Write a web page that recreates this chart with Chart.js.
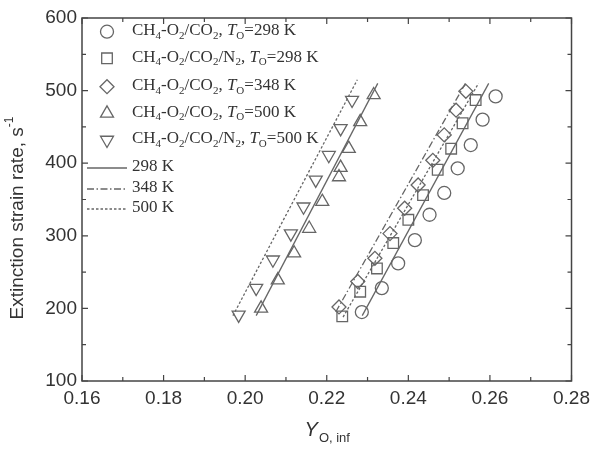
<!DOCTYPE html>
<html>
<head>
<meta charset="utf-8">
<script src="https://cdn.jsdelivr.net/npm/chart.js@4.4.1/dist/chart.umd.min.js"></script>
<style>
html, body { margin: 0; padding: 0; background: #fff; }
</style>
</head>
<body>
<canvas id="c" width="596" height="450"></canvas>
<script>
// Messpunkte
var circX = [0.2286, 0.2335, 0.2375, 0.2416, 0.2452, 0.2488, 0.2521, 0.2553, 0.2582, 0.2614];
var circY = [195, 228, 262, 294, 329, 359, 393, 425, 460, 492];
var sqX = [0.2238, 0.2282, 0.2323, 0.2363, 0.2400, 0.2436, 0.2472, 0.2505, 0.2533, 0.2565];
var sqY = [189, 223, 255, 290, 322, 356, 391, 420, 455, 487];
var diaX = [0.2230, 0.2276, 0.2318, 0.2355, 0.2391, 0.2424, 0.2460, 0.2488, 0.2517, 0.2541];
var diaY = [202, 237, 269, 303, 338, 370, 404, 439, 473, 499];
var upX = [0.2039, 0.2080, 0.2120, 0.2157, 0.2189, 0.2230, 0.2234, 0.2254, 0.2282, 0.2315];
var upY = [200, 239, 276, 310, 347, 381, 394, 420, 457, 494];
var downX = [0.1984, 0.2027, 0.2068, 0.2112, 0.2143, 0.2173, 0.2205, 0.2234, 0.2262];
var downY = [191, 228, 267, 303, 340, 377, 411, 448, 487];

// Fit-Linien (jeweils Anfangs- und Endpunkt)
var solidLX = [0.2027, 0.2325], solidLY = [190, 510];
var dotLX = [0.1970, 0.2275], dotLY = [190, 515];
var solidRX = [0.2287, 0.2597], solidRY = [190, 510];
var dashDotRX = [0.2222, 0.2540], dashDotRY = [195, 510];
var dotRX = [0.2240, 0.2572], dotRY = [188, 510];

// Achsen
var xTicks = [0.16, 0.18, 0.20, 0.22, 0.24, 0.26, 0.28];
var yTicks = [100, 200, 300, 400, 500, 600];

// Legende: {..} = tiefgestellt, [..] = kursiv
var markLabels = [
    'CH{4}-O{2}/CO{2}, [T]{O}=298 K',
    'CH{4}-O{2}/CO{2}/N{2}, [T]{O}=298 K',
    'CH{4}-O{2}/CO{2}, [T]{O}=348 K',
    'CH{4}-O{2}/CO{2}, [T]{O}=500 K',
    'CH{4}-O{2}/CO{2}/N{2}, [T]{O}=500 K'
];
var lineLabels = ['298 K', '348 K', '500 K'];

var grey = '#666';
var markStyles = [
    { pointStyle: 'circle', radius: 6.5, rotation: 0 },
    { pointStyle: 'rect', radius: 7.5, rotation: 0 },
    { pointStyle: 'rectRot', radius: 7, rotation: 0 },
    { pointStyle: 'triangle', radius: 7.5, rotation: 0 },
    { pointStyle: 'triangle', radius: 7.5, rotation: 180 }
];
var lineDashes = [[], [7, 2.5, 1.5, 2.5], [2.5, 2]];

function pts(xs, ys) {
    return xs.map(function (x, i) { return { x: x, y: ys[i] }; });
}

function markSet(xs, ys, k) {
    var s = markStyles[k];
    return {
        data: pts(xs, ys),
        pointStyle: s.pointStyle,
        pointRadius: s.radius,
        rotation: s.rotation,
        borderColor: grey,
        backgroundColor: 'rgba(0,0,0,0)',
        pointBorderWidth: 1.3,
        showLine: false
    };
}

function lineSet(xs, ys, dash) {
    return {
        data: pts(xs, ys),
        showLine: true,
        pointRadius: 0,
        borderColor: grey,
        borderWidth: 1.3,
        borderDash: dash,
        fill: false
    };
}

// kleiner Text-Parser fuer tief gestellte / kursive Teile
function drawRich(ctx, str, x, y, size, family) {
    var re = /\{([^}]*)\}|\[([^\]]*)\]|([^{\[]+)/g;
    var m;
    ctx.textBaseline = 'middle';
    ctx.textAlign = 'left';
    while ((m = re.exec(str)) !== null) {
        if (m[1] !== undefined) {
            ctx.font = Math.round(size * 0.62) + 'px ' + family;
            ctx.fillText(m[1], x, y + size * 0.3);
            x += ctx.measureText(m[1]).width;
        } else if (m[2] !== undefined) {
            ctx.font = 'italic ' + size + 'px ' + family;
            ctx.fillText(m[2], x, y);
            x += ctx.measureText(m[2]).width;
        } else {
            ctx.font = size + 'px ' + family;
            ctx.fillText(m[3], x, y);
            x += ctx.measureText(m[3]).width;
        }
    }
    return x;
}

var framePlugin = {
    id: 'frame',
    afterDraw: function (chart) {
        var ctx = chart.ctx;
        var a = chart.chartArea;
        var xs = chart.scales.x, ys = chart.scales.y;
        ctx.save();
        // Rahmen
        ctx.strokeStyle = '#444';
        ctx.lineWidth = 1.5;
        ctx.strokeRect(a.left, a.top, a.right - a.left, a.bottom - a.top);

        // Ticks nach innen, Haupt- und Nebenticks
        ctx.lineWidth = 1.2;
        ctx.beginPath();
        for (var i = 0; i < xTicks.length; i++) {
            var v = xTicks[i];
            var p = xs.getPixelForValue(v);
            ctx.moveTo(p, a.bottom); ctx.lineTo(p, a.bottom - 6);
            ctx.moveTo(p, a.top); ctx.lineTo(p, a.top + 6);
            if (i < xTicks.length - 1) {
                var pm = xs.getPixelForValue((v + xTicks[i + 1]) / 2);
                ctx.moveTo(pm, a.bottom); ctx.lineTo(pm, a.bottom - 4);
                ctx.moveTo(pm, a.top); ctx.lineTo(pm, a.top + 4);
            }
        }
        for (var j = 0; j < yTicks.length; j++) {
            var w = yTicks[j];
            var q = ys.getPixelForValue(w);
            ctx.moveTo(a.left, q); ctx.lineTo(a.left + 6, q);
            ctx.moveTo(a.right, q); ctx.lineTo(a.right - 6, q);
            if (j < yTicks.length - 1) {
                var qm = ys.getPixelForValue((w + yTicks[j + 1]) / 2);
                ctx.moveTo(a.left, qm); ctx.lineTo(a.left + 4, qm);
                ctx.moveTo(a.right, qm); ctx.lineTo(a.right - 4, qm);
            }
        }
        ctx.stroke();

        // Legende
        var serif = '"Liberation Serif", "DejaVu Serif", serif';
        var rowY = [31.7, 58.3, 86.7, 113.3, 140];
        for (var k = 0; k < markLabels.length; k++) {
            var s = markStyles[k];
            ctx.strokeStyle = grey;
            ctx.fillStyle = 'rgba(0,0,0,0)';
            ctx.lineWidth = 1.3;
            Chart.helpers.drawPoint(ctx, {
                pointStyle: s.pointStyle,
                radius: s.radius,
                rotation: s.rotation,
                borderWidth: 1.3
            }, 107, rowY[k]);
            ctx.fillStyle = '#333';
            drawRich(ctx, markLabels[k], 132, rowY[k] - 1, 17, serif);
        }
        var lineY = [168, 189, 209];
        for (var n = 0; n < lineLabels.length; n++) {
            ctx.strokeStyle = grey;
            ctx.lineWidth = 1.3;
            ctx.setLineDash(lineDashes[n]);
            ctx.beginPath();
            ctx.moveTo(87, lineY[n]);
            ctx.lineTo(127, lineY[n]);
            ctx.stroke();
            ctx.setLineDash([]);
            ctx.fillStyle = '#333';
            drawRich(ctx, lineLabels[n], 132, lineY[n] - 1, 17, serif);
        }

        // Achsentitel
        var sans = '"Liberation Sans", Arial, sans-serif';
        ctx.fillStyle = '#333';
        ctx.save();
        ctx.translate(18, 218);
        ctx.rotate(-Math.PI / 2);
        ctx.font = '19px ' + sans;
        var main = 'Extinction strain rate, s';
        var mw = ctx.measureText(main).width;
        ctx.font = '12px ' + sans;
        var sw = ctx.measureText('-1').width;
        var x0 = -(mw + sw) / 2;
        ctx.textBaseline = 'middle';
        ctx.textAlign = 'left';
        ctx.font = '19px ' + sans;
        ctx.fillText(main, x0, 0);
        ctx.font = '12px ' + sans;
        ctx.fillText('-1', x0 + mw, -8);
        ctx.restore();

        ctx.textBaseline = 'middle';
        ctx.font = 'italic 20px ' + sans;
        var yw = ctx.measureText('Y').width;
        ctx.font = '13px ' + sans;
        var subw = ctx.measureText('O, inf').width;
        var tx = (a.left + a.right) / 2 - (yw + subw) / 2;
        ctx.font = 'italic 20px ' + sans;
        ctx.fillText('Y', tx, 430);
        ctx.font = '13px ' + sans;
        ctx.fillText('O, inf', tx + yw + 1, 438);
        ctx.restore();
    }
};

var ctx = document.getElementById('c').getContext('2d');
var tickFont = { family: '"Liberation Sans", Arial, sans-serif', size: 19 };

var myChart = new Chart(ctx, {
    type: 'scatter',
    data: {
        datasets: [
            lineSet(solidLX, solidLY, lineDashes[0]),
            lineSet(dotLX, dotLY, lineDashes[2]),
            lineSet(solidRX, solidRY, lineDashes[0]),
            lineSet(dashDotRX, dashDotRY, lineDashes[1]),
            lineSet(dotRX, dotRY, lineDashes[2]),
            markSet(circX, circY, 0),
            markSet(sqX, sqY, 1),
            markSet(diaX, diaY, 2),
            markSet(upX, upY, 3),
            markSet(downX, downY, 4)
        ]
    },
    options: {
        responsive: false,
        animation: false,
        layout: { padding: { left: 0, right: 19, top: 18, bottom: 0 } },
        plugins: { legend: { display: false }, tooltip: { enabled: false } },
        scales: {
            x: {
                type: 'linear',
                min: 0.16, max: 0.28,
                afterBuildTicks: function (scale) {
                    scale.ticks = xTicks.map(function (v) { return { value: v }; });
                },
                afterFit: function (scale) { scale.height = 69; },
                grid: { display: false, drawTicks: false },
                border: { display: false },
                ticks: {
                    padding: 6,
                    color: '#333',
                    font: tickFont,
                    maxRotation: 0,
                    callback: function (v) { return Number(v).toFixed(2); }
                }
            },
            y: {
                type: 'linear',
                min: 100, max: 600,
                afterBuildTicks: function (scale) {
                    scale.ticks = yTicks.map(function (v) { return { value: v }; });
                },
                afterFit: function (scale) { scale.width = 82; },
                grid: { display: false, drawTicks: false },
                border: { display: false },
                ticks: {
                    padding: 5,
                    color: '#333',
                    font: tickFont
                }
            }
        }
    },
    plugins: [framePlugin]
});
</script>
</body>
</html>
